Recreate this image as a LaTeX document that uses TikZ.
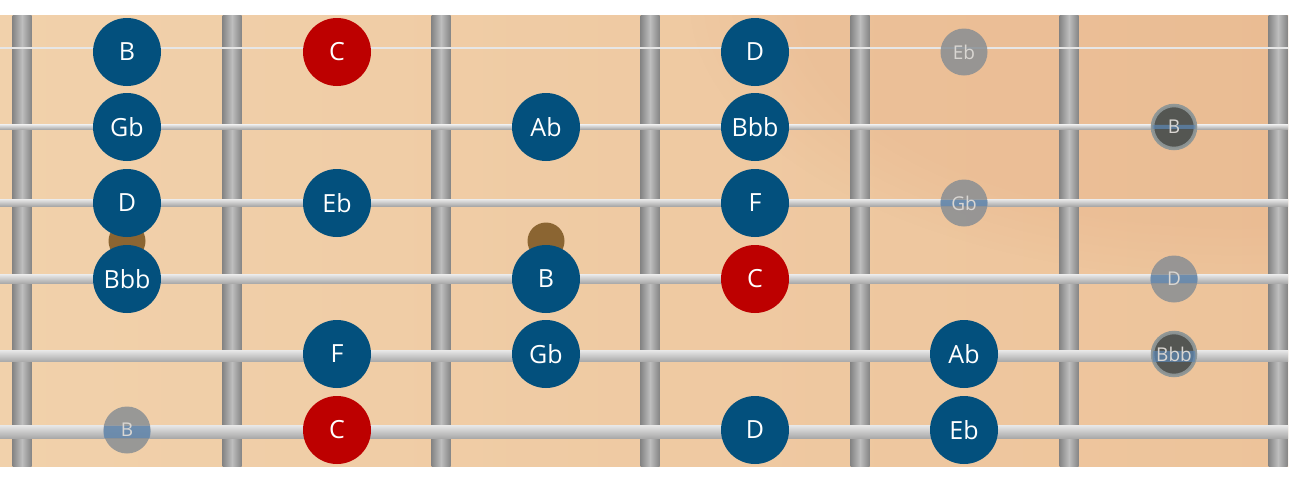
\documentclass[tikz,border=0pt]{standalone}
\usepackage{fontspec}
\setmainfont{Open Sans}
\usetikzlibrary{fadings}
\definecolor{noteblue}{HTML}{03507D}
\definecolor{notered}{HTML}{BD0000}
\definecolor{woodL}{HTML}{F1D1AB}
\definecolor{woodR}{HTML}{EDC39A}
\definecolor{woodO}{HTML}{E3A67E}
\definecolor{fretdark}{HTML}{858585}
\definecolor{fretlight}{HTML}{BEBEBE}
\definecolor{strtop}{HTML}{E6E6E6}
\definecolor{strbot}{HTML}{A9A9A9}
\definecolor{strblue}{HTML}{5E88B4}
\definecolor{marker}{HTML}{8B6532}
\definecolor{ghostgray}{HTML}{858C93}
\definecolor{ghostdark}{HTML}{444B4B}
\definecolor{ghostring}{HTML}{8E9696}
\definecolor{ghosttext}{HTML}{D9D6D2}
\tikzset{
  note/.style={circle, fill=noteblue, minimum size=68pt, inner sep=0pt, text=white, font=\fontsize{25}{25}\selectfont},
  root/.style={note, fill=notered},
  ghost/.style={circle, fill=ghostgray, fill opacity=0.82, text opacity=1, minimum size=47pt, inner sep=0pt, text=ghosttext, font=\fontsize{19}{19}\selectfont},
  ghostd/.style={ghost, fill=ghostdark, fill opacity=0.9, draw=ghostring, draw opacity=0.95, line width=3.5pt, minimum size=43pt},
  ghostlabel/.style={text=ghosttext, font=\fontsize{19}{19}\selectfont, inner sep=0pt},
  fretbar/.style={left color=fretdark, right color=fretdark, middle color=fretlight},
  dotmark/.style={circle, fill=marker, minimum size=37pt, inner sep=0pt},
  strshade/.style={top color=strtop, bottom color=strbot}
}
% tint of a string seen through a ghost note: centre x, string y, half width, radius
\newcommand{\ghosttint}[4]{%
  \begin{scope}
    \clip (#1,#2) circle (#4);
    \fill[strblue, opacity=0.7] (#1-30,#2-#3) rectangle (#1+30,#2+#3);
  \end{scope}}
\begin{document}
\begin{tikzpicture}[x=1pt,y=-1pt]
\useasboundingbox (0,0) rectangle (1300,480);
\fill[white] (0,0) rectangle (1300,480);
% wood
\shade[left color=woodL, right color=woodR] (0,15) rectangle (1288,466);
\begin{scope}
  \clip (0,15) rectangle (1288,466);
  \fill[woodO, path fading=circle with fuzzy edge 20 percent, fill opacity=0.22] (1250,0) ellipse (560 and 280);
\end{scope}
% frets
\foreach \x in {22,232,441,650,860,1069,1278}{
  \shade[fretbar] (\x-9.5,15) rectangle (\x+9.5,466);
}
% fret markers
\node[dotmark] (m1) at (127,241) {};
\node[dotmark] (m2) at (546,241) {};
% strings
\fill[strtop] (0,47.2) rectangle (1288,48.8);
\shade[strshade] (0,124.8) rectangle (1288,129.2);
\shade[strshade] (0,199.5) rectangle (1288,206);
\shade[strshade] (0,274.8) rectangle (1288,283.2);
\shade[strshade] (0,350.5) rectangle (1288,361.5);
\shade[strshade] (0,425.5) rectangle (1288,438);
% string 1
\node[note] (s1a) at (127,52) {B};
\node[root] (s1b) at (337,52) {C};
\node[note] (s1c) at (755,52) {D};
\node[ghost] (s1d) at (964,52) {Eb};
% string 2
\node[note] (s2a) at (127,127) {Gb};
\node[note] (s2b) at (546,127) {Ab};
\node[note] (s2c) at (755,127) {Bbb};
\node[ghostd] (s2d) at (1174,127) {};
\ghosttint{1174}{127}{2.2}{21.5}
\node[ghostlabel] (s2dt) at (s2d) {B};
% string 3
\node[note] (s3a) at (127,203) {D};
\node[note] (s3b) at (337,203) {Eb};
\node[note] (s3c) at (755,203) {F};
\node[ghost] (s3d) at (964,203) {};
\ghosttint{964}{202.75}{3.25}{23.5}
\node[ghostlabel] (s3dt) at (s3d) {Gb};
% string 4
\node[note] (s4a) at (127,279) {Bbb};
\node[note] (s4b) at (546,279) {B};
\node[root] (s4c) at (755,279) {C};
\node[ghost] (s4d) at (1174,279) {};
\ghosttint{1174}{279}{4.2}{23.5}
\node[ghostlabel] (s4dt) at (s4d) {D};
% string 5
\node[note] (s5a) at (337,354) {F};
\node[note] (s5b) at (546,354) {Gb};
\node[note] (s5c) at (964,354) {Ab};
\node[ghostd] (s5d) at (1174,354) {};
\ghosttint{1174}{356}{5.5}{21.5}
\node[ghostlabel] (s5dt) at (s5d) {Bbb};
% string 6
\node[ghost] (s6a) at (127,430) {};
\ghosttint{127}{431.75}{6.25}{23.5}
\node[ghostlabel] (s6at) at (s6a) {B};
\node[root] (s6b) at (337,430) {C};
\node[note] (s6c) at (755,430) {D};
\node[note] (s6d) at (964,430) {Eb};
\end{tikzpicture}
\end{document}
